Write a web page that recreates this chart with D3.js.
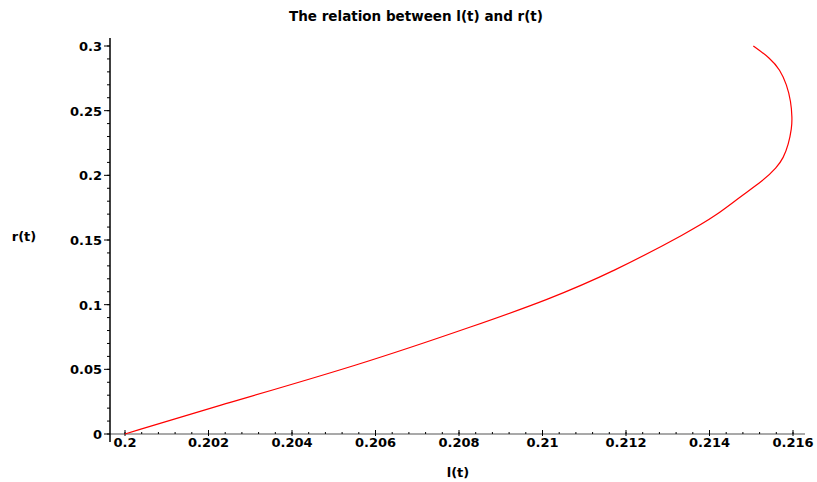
<!DOCTYPE html>
<html>
<head>
<meta charset="utf-8">
<script src="https://cdn.jsdelivr.net/npm/d3@7"></script>
<style>
  body { margin: 0; background: #fff; }
  text { font-family: "DejaVu Sans", sans-serif; font-weight: bold; fill: #000; }
</style>
</head>
<body>
<div id="chart"></div>
<script>
// l(t) on x, r(t) on y
const lValues = [0.2, 0.20204, 0.20563, 0.2085, 0.21011, 0.21169, 0.21353, 0.21417,
  0.21473, 0.21529, 0.21561, 0.21577, 0.21589, 0.21597, 0.21598, 0.21595,
  0.21585, 0.21569, 0.21545, 0.21505];
const rValues = [0, 0.0201, 0.0534, 0.0851, 0.1036, 0.1253, 0.1567, 0.1692,
  0.1833, 0.1960, 0.2060, 0.2134, 0.2237, 0.2366, 0.2443, 0.2573,
  0.2701, 0.2817, 0.2907, 0.3];

const xTicks = [0.2, 0.202, 0.204, 0.206, 0.208, 0.21, 0.212, 0.214, 0.216];
const xTickLabels = ["0.2", "0.202", "0.204", "0.206", "0.208", "0.21", "0.212", "0.214", "0.216"];
const yTicks = [0, 0.05, 0.1, 0.15, 0.2, 0.25, 0.3];
const yTickLabels = ["0", "0.05", "0.1", "0.15", "0.2", "0.25", "0.3"];

const width = 817, height = 482;

const svg = d3.select("#chart").append("svg")
  .attr("width", width)
  .attr("height", height);

// scales
const x = d3.scaleLinear().domain([0.2, 0.216]).range([125, 793]);
const y = d3.scaleLinear().domain([0, 0.3]).range([434, 46]);
const axisX = 110; // y axis sits here

// x axis (grey line)
svg.append("line")
  .attr("x1", axisX).attr("x2", 805)
  .attr("y1", y(0)).attr("y2", y(0))
  .attr("stroke", "#8c8c8c").attr("stroke-width", 1.5);

const xMinor = d3.range(0, 41).map(i => 0.2 + i * 0.0004).filter(v => v <= 0.2161);
svg.append("g").selectAll("line").data(xMinor).join("line")
  .attr("x1", d => x(d)).attr("x2", d => x(d))
  .attr("y1", y(0)).attr("y2", y(0) - 2)
  .attr("stroke", "#000");

svg.append("g").selectAll("line").data(xTicks).join("line")
  .attr("x1", d => x(d)).attr("x2", d => x(d))
  .attr("y1", y(0) - 4).attr("y2", y(0) + 2)
  .attr("stroke", "#000");

svg.append("g").selectAll("text").data(xTicks).join("text")
  .attr("x", d => x(d))
  .attr("y", y(0) + 13)
  .attr("text-anchor", "middle")
  .attr("font-size", 13)
  .text((d, i) => xTickLabels[i]);

// y axis (black line)
svg.append("line")
  .attr("x1", axisX).attr("x2", axisX)
  .attr("y1", 38).attr("y2", 442)
  .attr("stroke", "#000").attr("stroke-width", 1.5);

const yMinor = d3.range(0, 31).map(i => i * 0.01);
svg.append("g").selectAll("line").data(yMinor).join("line")
  .attr("x1", axisX - 3).attr("x2", axisX)
  .attr("y1", d => y(d)).attr("y2", d => y(d))
  .attr("stroke", "#000");

svg.append("g").selectAll("line").data(yTicks).join("line")
  .attr("x1", axisX - 6).attr("x2", axisX)
  .attr("y1", d => y(d)).attr("y2", d => y(d))
  .attr("stroke", "#000");

svg.append("g").selectAll("text").data(yTicks).join("text")
  .attr("x", axisX - 8)
  .attr("y", d => y(d) + 5)
  .attr("text-anchor", "end")
  .attr("font-size", 13)
  .text((d, i) => yTickLabels[i]);

// curve (basis spline smooths out reading noise)
const pts = lValues.map((l, i) => [l, rValues[i]]);
const line = d3.line()
  .x(d => x(d[0]))
  .y(d => y(d[1]))
  .curve(d3.curveBasis);

svg.append("path")
  .datum(pts)
  .attr("d", line)
  .attr("fill", "none")
  .attr("stroke", "#ff0000")
  .attr("stroke-width", 1.2);

// titles
svg.append("text")
  .attr("x", 416).attr("y", 21)
  .attr("text-anchor", "middle")
  .attr("font-size", 13.5)
  .text("The relation between l(t) and r(t)");

svg.append("text")
  .attr("x", 24).attr("y", 241)
  .attr("text-anchor", "middle")
  .attr("font-size", 13)
  .text("r(t)");

svg.append("text")
  .attr("x", 458).attr("y", 477)
  .attr("text-anchor", "middle")
  .attr("font-size", 13)
  .text("l(t)");
</script>
</body>
</html>
